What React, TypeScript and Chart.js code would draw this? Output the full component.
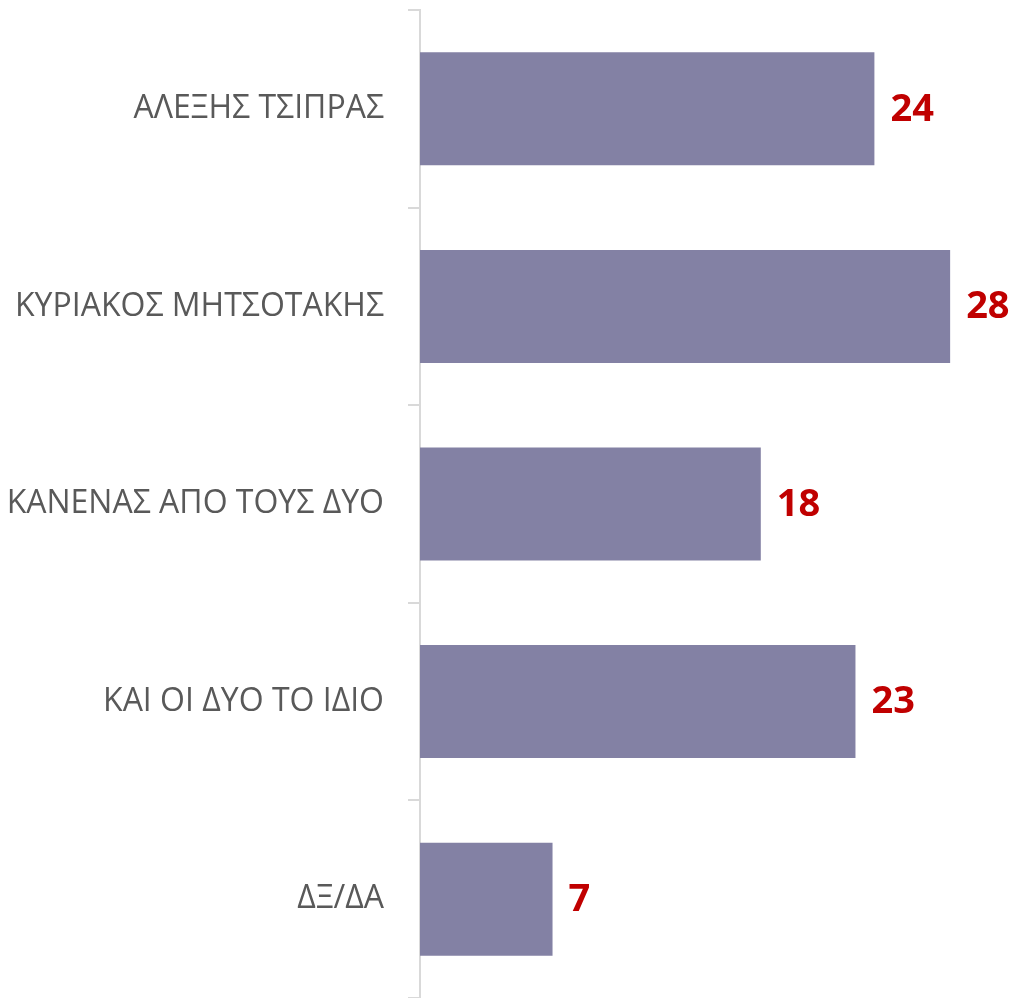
import React, { useEffect, useRef } from "react";
import { Chart, registerables } from "chart.js";

Chart.register(...registerables);

const categories = [
  "ΑΛΕΞΗΣ ΤΣΙΠΡΑΣ",
  "ΚΥΡΙΑΚΟΣ ΜΗΤΣΟΤΑΚΗΣ",
  "ΚΑΝΕΝΑΣ ΑΠΟ ΤΟΥΣ ΔΥΟ",
  "ΚΑΙ ΟΙ ΔΥΟ ΤΟ ΙΔΙΟ",
  "ΔΞ/ΔΑ",
];
const values = [24, 28, 18, 23, 7];

const valueLabels = {
  id: "valueLabels",
  afterDatasetsDraw(chart: any) {
    const ctx = chart.ctx;
    const meta = chart.getDatasetMeta(0);
    ctx.save();
    ctx.font = "bold 38px 'Open Sans'";
    ctx.fillStyle = "#C00000";
    ctx.textAlign = "left";
    ctx.textBaseline = "middle";
    meta.data.forEach((bar: any, i: number) => {
      ctx.fillText(String(values[i]), bar.x + 16, bar.y + 1);
    });
    ctx.restore();
  },
};

export default function App() {
  const ref = useRef<HTMLCanvasElement>(null);
  useEffect(() => {
    if (!ref.current) return;
    const chart = new Chart(ref.current, {
      type: "bar",
      data: {
        labels: categories,
        datasets: [
          {
            data: values,
            backgroundColor: "#8381A4",
            borderWidth: 0,
            barPercentage: 0.572,
            categoryPercentage: 1,
          },
        ],
      },
      options: {
        indexAxis: "y",
        animation: false,
        responsive: false,
        maintainAspectRatio: false,
        layout: { padding: { top: 10, right: 23, left: 0, bottom: -2 } },
        plugins: {
          legend: { display: false },
          tooltip: { enabled: false },
        },
        scales: {
          x: {
            display: false,
            min: 0,
            max: 30,
          },
          y: {
            afterFit(scale: any) {
              scale.width = 420;
              scale.paddingTop = 0;
              scale.paddingBottom = 0;
            },
            border: { display: true, color: "#D9D9D9", width: 2 },
            grid: {
              offset: true,
              drawOnChartArea: false,
              drawTicks: true,
              tickLength: 12,
              color: "#D9D9D9",
              lineWidth: 2,
            },
            ticks: {
              color: "#595959",
              padding: 24,
              font: { family: "'Open Sans'", size: 32 },
            },
          },
        },
      },
      plugins: [valueLabels],
    });
    return () => chart.destroy();
  }, []);
  return (
    <div style={{ position: "absolute", left: 0, top: 0, width: 1011, height: 998, background: "#fff" }}>
      <canvas ref={ref} width={1011} height={998} style={{ width: 1011, height: 998 }} />
    </div>
  );
}
